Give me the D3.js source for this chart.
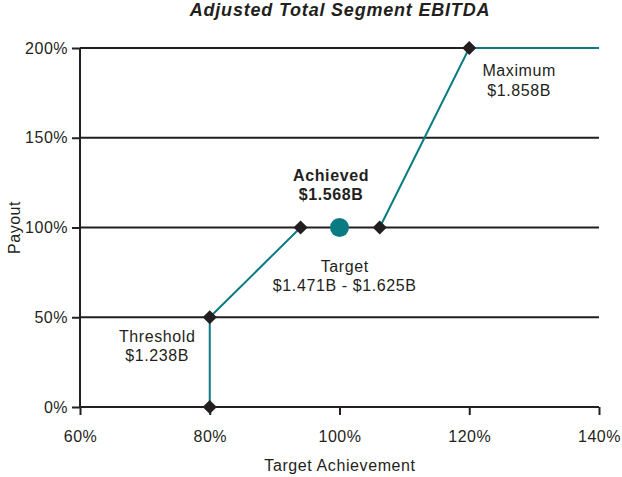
<!DOCTYPE html>
<html>
<head>
<meta charset="utf-8">
<script src="https://cdn.jsdelivr.net/npm/d3@7"></script>
<style>
body { margin: 0; background: #fff; }
text { font-family: "Liberation Sans", Arial, sans-serif; fill: #231f20; }
</style>
</head>
<body>
<div id="chart"></div>
<script>
const width = 622;
const height = 477;

// data
const x_ticks = [60, 80, 100, 120, 140];
const y_ticks = [0, 50, 100, 150, 200];
const payout_x = [80, 80, 94, 106.2, 120, 140];
const payout_y = [0, 50, 100, 100, 200, 200];
const diamond_x = [80, 80, 94, 106.2, 120];
const diamond_y = [0, 50, 100, 100, 200];
const achieved = [100, 100];
const labels = [
  { name: "Maximum", value: "$1.858B", x: 127.7, y: 184.4, bold: false },
  { name: "Achieved", value: "$1.568B", x: 98.7, y: 126.1, bold: true },
  { name: "Target", value: "$1.471B - $1.625B", x: 100.8, y: 75.4, bold: false },
  { name: "Threshold", value: "$1.238B", x: 71.9, y: 36.4, bold: false }
];

const teal = "#0a7b83";
const ink = "#231f20";

const svg = d3.select("#chart")
  .append("svg")
  .attr("width", width)
  .attr("height", height);

const x = d3.scaleLinear()
  .domain([60, 140])
  .range([80, 599]);

const y = d3.scaleLinear()
  .domain([0, 200])
  .range([407, 48]);

// horizontal grid lines
svg.append("g")
  .selectAll("line")
  .data(y_ticks)
  .join("line")
  .attr("x1", x(60))
  .attr("x2", d => d == 200 ? x(120) : x(140))
  .attr("y1", d => y(d))
  .attr("y2", d => y(d))
  .attr("stroke", ink)
  .attr("stroke-width", 2);

// y axis
const y_axis = svg.append("g")
  .attr("transform", `translate(${x(60)},0)`)
  .call(d3.axisLeft(y).tickValues(y_ticks).tickSize(8).tickPadding(4).tickFormat(d => d + "%"));
y_axis.select(".domain").attr("stroke", ink).attr("stroke-width", 2).attr("d", `M0,${y(0)}V${y(200)}`);
y_axis.selectAll(".tick line").attr("stroke", ink).attr("stroke-width", 2);
y_axis.selectAll(".tick text")
  .attr("font-size", 16)
  .attr("letter-spacing", 0.5)
  .attr("font-family", "Liberation Sans, Arial, sans-serif")
  .attr("fill", ink);

// x axis
const x_axis = svg.append("g")
  .attr("transform", `translate(0,${y(0)})`)
  .call(d3.axisBottom(x).tickValues(x_ticks).tickSize(8).tickPadding(16).tickFormat(d => d + "%"));
x_axis.select(".domain").remove();
x_axis.selectAll(".tick line").attr("stroke", ink).attr("stroke-width", 2);
x_axis.selectAll(".tick text")
  .attr("font-size", 16)
  .attr("letter-spacing", 0.5)
  .attr("font-family", "Liberation Sans, Arial, sans-serif")
  .attr("fill", ink);

// payout curve (no teal between the two target diamonds)
const pts = payout_x.map((d, i) => [d, payout_y[i]]);
const line = d3.line().x(d => x(d[0])).y(d => y(d[1]));
svg.append("path")
  .attr("d", line(pts.slice(0, 3)))
  .attr("fill", "none")
  .attr("stroke", teal)
  .attr("stroke-width", 2);
svg.append("path")
  .attr("d", line(pts.slice(3)))
  .attr("fill", "none")
  .attr("stroke", teal)
  .attr("stroke-width", 2);

// diamonds
svg.append("g")
  .selectAll("path")
  .data(diamond_x.map((d, i) => [d, diamond_y[i]]))
  .join("path")
  .attr("d", d3.symbol().type(d3.symbolSquare).size(100))
  .attr("transform", d => `translate(${x(d[0])},${y(d[1])}) rotate(45)`)
  .attr("fill", ink);

// achieved dot
svg.append("circle")
  .attr("cx", x(achieved[0]))
  .attr("cy", y(achieved[1]))
  .attr("r", 9.5)
  .attr("fill", teal);

// annotations
const ann = svg.append("g")
  .selectAll("text")
  .data(labels)
  .join("text")
  .attr("text-anchor", "middle")
  .attr("font-size", 16)
  .attr("letter-spacing", 0.6)
  .attr("font-weight", d => d.bold ? "bold" : "normal")
  .attr("x", d => x(d.x))
  .attr("y", d => y(d.y));
ann.append("tspan").attr("x", d => x(d.x)).text(d => d.name);
ann.append("tspan").attr("x", d => x(d.x)).attr("dy", 19.5).text(d => d.value);

// title
svg.append("text")
  .attr("x", 340)
  .attr("y", 16)
  .attr("text-anchor", "middle")
  .attr("font-size", 18)
  .attr("letter-spacing", 0.8)
  .attr("font-weight", "bold")
  .attr("font-style", "italic")
  .text("Adjusted Total Segment EBITDA");

// axis titles
svg.append("text")
  .attr("x", 340)
  .attr("y", 471)
  .attr("text-anchor", "middle")
  .attr("font-size", 16)
  .attr("letter-spacing", 0.6)
  .text("Target Achievement");

svg.append("text")
  .attr("transform", `translate(20,${y(100)}) rotate(-90)`)
  .attr("text-anchor", "middle")
  .attr("font-size", 16)
  .attr("letter-spacing", 0.5)
  .text("Payout");
</script>
</body>
</html>
